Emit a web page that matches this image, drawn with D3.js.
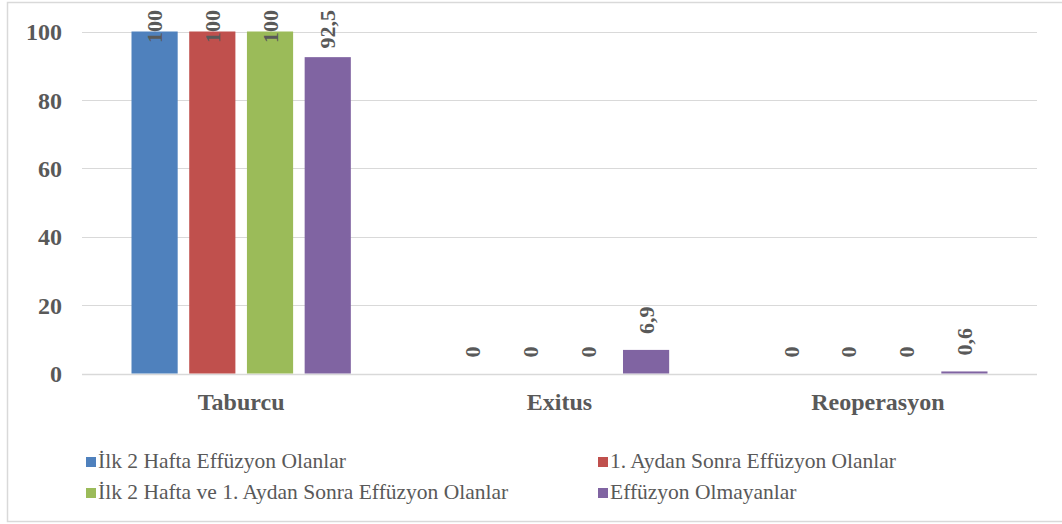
<!DOCTYPE html>
<html>
<head>
<meta charset="utf-8">
<script src="https://cdn.jsdelivr.net/npm/d3@7"></script>
<style>
  html, body { margin: 0; padding: 0; background: #fff; }
  svg { display: block; }
</style>
</head>
<body>
<svg id="chart" width="1062" height="524"></svg>
<script>
// Outcome categories and percentage values per patient group
const categories = ["Taburcu", "Exitus", "Reoperasyon"];
const seriesNames = [
  "İlk 2 Hafta Effüzyon Olanlar",
  "1. Aydan Sonra Effüzyon Olanlar",
  "İlk 2 Hafta ve 1. Aydan Sonra Effüzyon Olanlar",
  "Effüzyon Olmayanlar"
];
const ilk2Hafta       = [100, 0, 0];
const birAydanSonra   = [100, 0, 0];
const ikisiBirden     = [100, 0, 0];
const effuzyonYok     = [92.5, 6.9, 0.6];
const valueLabels = [
  ["100", "0", "0"],
  ["100", "0", "0"],
  ["100", "0", "0"],
  ["92,5", "6,9", "0,6"]
];
const yTicks = [0, 20, 40, 60, 80, 100];
const colors = ["#4F81BD", "#C0504D", "#9BBB59", "#8064A2"];

const seriesValues = [ilk2Hafta, birAydanSonra, ikisiBirden, effuzyonYok];
const textColor = "#595959";
const serif = "Liberation Serif";

const svg = d3.select("#chart");

// outer chart frame
svg.append("rect")
  .attr("x", 7.5).attr("y", 2.5)
  .attr("width", 1060).attr("height", 519)
  .attr("fill", "none").attr("stroke", "#d9d9d9").attr("stroke-width", 1.5);

const plot = { left: 82, right: 1037, top: 31.5, bottom: 373.5 };

const x0 = d3.scaleBand().domain(categories).range([plot.left, plot.right]);
const groupPad = 49.5;
const x1 = d3.scaleBand().domain(d3.range(seriesNames.length))
  .range([groupPad, x0.bandwidth() - groupPad])
  .paddingInner(0.2).paddingOuter(0);
const y = d3.scaleLinear().domain([0, 100]).range([plot.bottom, plot.top]);

// gridlines
svg.append("g").selectAll("line").data(yTicks).join("line")
  .attr("x1", plot.left).attr("x2", plot.right)
  .attr("y1", d => Math.round(y(d)) + 0.5).attr("y2", d => Math.round(y(d)) + 0.5)
  .attr("stroke", "#d9d9d9").attr("stroke-width", d => d === 0 ? 1.5 : 1.2);

// y axis tick labels
const yAxis = d3.axisLeft(y).tickValues(yTicks).tickSize(0).tickPadding(0).tickFormat(d3.format("d"));
const gy = svg.append("g").attr("transform", `translate(62,0)`).call(yAxis);
gy.select(".domain").remove();
gy.selectAll("text")
  .style("fill", textColor).style("font-family", serif)
  .style("font-size", "24px").style("font-weight", "bold").attr("dy", "0.34em");

// x axis category labels
const xAxis = d3.axisBottom(x0).tickSize(0).tickPadding(0);
const gx = svg.append("g").attr("transform", `translate(0,410)`).call(xAxis);
gx.select(".domain").remove();
gx.selectAll("text")
  .style("fill", textColor).style("font-family", serif)
  .style("font-size", "24px").style("font-weight", "bold").attr("dy", 0);

// bars
const groups = svg.append("g").selectAll("g").data(categories).join("g")
  .attr("transform", d => `translate(${x0(d)},0)`);

groups.each(function(cat, ci) {
  const g = d3.select(this);
  seriesValues.forEach((vals, si) => {
    const v = vals[ci];
    const bx = x1(si);
    const top = y(v);
    if (v > 0) {
      g.append("rect")
        .attr("x", bx).attr("y", top)
        .attr("width", x1.bandwidth())
        .attr("height", Math.max(plot.bottom - top, 1.5))
        .attr("fill", colors[si]);
    }
    // rotated value label above the bar, kept inside the chart area
    const cx = bx + x1.bandwidth() / 2;
    const t = g.append("text")
      .style("fill", textColor).style("font-family", serif)
      .style("font-size", "22px").style("font-weight", "bold")
      .attr("text-anchor", "start")
      .text(valueLabels[si][ci]);
    const len = t.node().getComputedTextLength();
    let start = top - 16;
    if (start - len < 10) start = 10 + len;
    t.attr("transform", `translate(${cx},${start}) rotate(-90)`)
      .attr("dy", "0.34em");
  });
});

// legend
const legendPos = [
  { x: 86, y: 457 }, { x: 598, y: 457 },
  { x: 86, y: 488 }, { x: 598, y: 488 }
];
const lg = svg.append("g").selectAll("g").data(seriesNames).join("g")
  .attr("transform", (d, i) => `translate(${legendPos[i].x},${legendPos[i].y})`);
lg.append("rect").attr("width", 10).attr("height", 10)
  .attr("fill", (d, i) => colors[i]);
lg.append("text")
  .attr("x", 12).attr("y", 11)
  .style("fill", textColor).style("font-family", serif).style("font-size", "21.5px")
  .text(d => d);
</script>
</body>
</html>
